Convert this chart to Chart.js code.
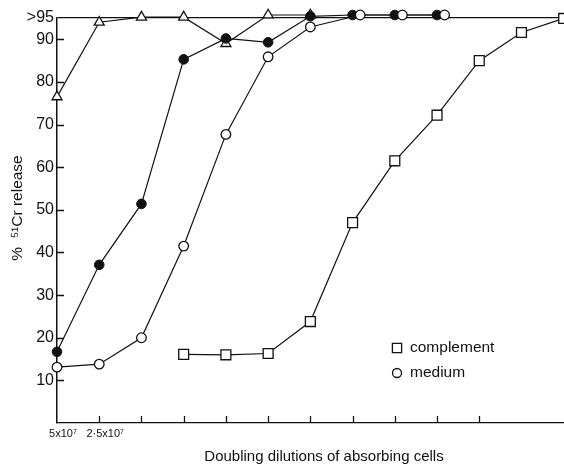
<!DOCTYPE html>
<html>
<head>
<meta charset="utf-8">
<script src="https://cdn.jsdelivr.net/npm/chart.js@4/dist/chart.umd.min.js"></script>
<style>
  html, body { margin: 0; padding: 0; background: #fff; overflow: hidden; }
</style>
</head>
<body>
<canvas id="grafico" width="572" height="464"></canvas>
<script>
// dilution steps (category index along the x axis)
const passos = [0, 1, 2, 3, 4, 5, 6, 7, 8, 9, 10, 11, 12];
const rotulosX = ["5x10⁷", "2·5x10⁷"];
const marcasX = [1, 2, 3, 4, 5, 6, 7, 8, 9, 10];
const ticksY = [10, 20, 30, 40, 50, 60, 70, 80, 90, 95];

// % 51Cr release
const complemento = [null, null, null, 16.1, 16.0, 16.3, 23.8, 47.0, 61.5, 72.2, 85.0, 91.6, 94.9];
const meio = [13.1, 13.8, 20.0, 41.5, 67.7, 85.9, 92.9, 95.7, 95.7, 95.7];
const meioX = [0, 1, 2, 3, 4, 5, 6, 7.18, 8.18, 9.18];
const cheios = [16.7, 37.1, 51.4, 85.3, 90.2, 89.3, 95.4, 95.7, 95.7, 95.7];
const triangulos = [76.5, 94.0, 95.2, 95.2, 89.0, 95.7, 95.7];

const tituloX = "Doubling dilutions of absorbing cells";
const tituloY = "%  ⁵¹Cr release";

const fonte = '"Liberation Sans", Arial, sans-serif';
const preto = "#111";

function pontos(xs, ys) {
  let lista = [];
  for (let i = 0; i < ys.length; i++) {
    if (ys[i] !== null) {
      lista.push({ x: xs[i], y: ys[i] });
    }
  }
  return lista;
}

const extras = {
  id: "extras",
  afterDraw(chart) {
    const ctx = chart.ctx;
    const area = chart.chartArea;
    const x = chart.scales.x;
    const y = chart.scales.y;

    ctx.save();
    ctx.strokeStyle = preto;
    ctx.lineWidth = 1.3;

    // tick marks point inwards
    ctx.beginPath();
    for (let i = 0; i < ticksY.length; i++) {
      if (ticksY[i] === 95) continue;
      let py = Math.round(y.getPixelForValue(ticksY[i])) + 0.5;
      ctx.moveTo(area.left, py);
      ctx.lineTo(area.left + 7, py);
    }
    for (let i = 0; i < marcasX.length; i++) {
      let px = Math.round(x.getPixelForValue(marcasX[i])) + 0.5;
      ctx.moveTo(px, area.bottom);
      ctx.lineTo(px, area.bottom - 7);
    }
    ctx.stroke();

    // axis titles
    ctx.fillStyle = preto;
    ctx.textAlign = "center";
    ctx.textBaseline = "middle";
    ctx.font = "15px " + fonte;
    ctx.fillText(tituloX, 324, 457);

    ctx.save();
    ctx.translate(18, 208);
    ctx.rotate(-Math.PI / 2);
    ctx.font = "15.5px " + fonte;
    ctx.fillText(tituloY, 0, 0);
    ctx.restore();

    // legend
    const itens = [chart.data.datasets[3], chart.data.datasets[0]];
    for (let i = 0; i < itens.length; i++) {
      let ds = itens[i];
      let ly = 348 + i * 25;
      ctx.fillStyle = "#fff";
      ctx.strokeStyle = preto;
      ctx.lineWidth = 1.3;
      Chart.helpers.drawPoint(ctx, {
        pointStyle: ds.pointStyle,
        rotation: 0,
        radius: ds.pointStyle === "rect" ? 6.5 : 4.5,
        borderWidth: 1.3,
      }, 397, ly);
      ctx.fillStyle = preto;
      ctx.textAlign = "left";
      ctx.font = "15.5px " + fonte;
      ctx.fillText(ds.label, 410, ly);
    }
    ctx.restore();
  },
};

new Chart(document.getElementById("grafico"), {
  type: "line",

  data: {
    datasets: [
      {
        label: "medium",
        data: pontos(meioX, meio),
        borderColor: preto,
        borderWidth: 1.2,
        pointStyle: "circle",
        pointRadius: 4.8,
        pointBackgroundColor: "#fff",
        pointBorderColor: preto,
        pointBorderWidth: 1.3,
        clip: false,
      },
      {
        label: "absorbed",
        data: pontos(passos, cheios),
        borderColor: preto,
        borderWidth: 1.2,
        pointStyle: "circle",
        pointRadius: 4.8,
        pointBackgroundColor: preto,
        pointBorderColor: preto,
        pointBorderWidth: 1,
        clip: false,
      },
      {
        label: "triangle",
        data: pontos(passos, triangulos),
        borderColor: preto,
        borderWidth: 1.2,
        pointStyle: "triangle",
        pointRadius: 5.8,
        pointBackgroundColor: "#fff",
        pointBorderColor: preto,
        pointBorderWidth: 1.3,
        clip: false,
      },
      {
        label: "complement",
        data: pontos(passos, complemento),
        borderColor: preto,
        borderWidth: 1.2,
        pointStyle: "rect",
        pointRadius: 7,
        pointBackgroundColor: "#fff",
        pointBorderColor: preto,
        pointBorderWidth: 1.3,
        clip: false,
      },
    ],
  },

  plugins: [extras],

  options: {
    responsive: false,
    animation: false,

    layout: {
      padding: { top: 18, right: 6, left: 0, bottom: 0 },
    },

    plugins: {
      legend: { display: false },
      tooltip: { enabled: false },
    },

    scales: {
      x: {
        type: "linear",
        min: 0,
        max: 12,
        afterBuildTicks: (s) => {
          s.ticks = passos.map((v) => ({ value: v }));
        },
        afterFit: (s) => {
          s.height = 41;
        },
        ticks: {
          autoSkip: false,
          maxRotation: 0,
          padding: 4,
          labelOffset: 6,
          color: preto,
          font: { family: fonte, size: 11 },
          callback: (v) => (rotulosX[v] !== undefined ? rotulosX[v] : ""),
        },
        grid: { drawTicks: false, color: "rgba(0,0,0,0)" },
        border: { color: preto, width: 1.3 },
      },

      y: {
        type: "linear",
        min: 0,
        max: 95,
        afterBuildTicks: (s) => {
          s.ticks = ticksY.map((v) => ({ value: v }));
        },
        afterFit: (s) => {
          s.width = 57;
        },
        ticks: {
          padding: 3,
          color: preto,
          font: { family: fonte, size: 16 },
          callback: (v) => (v === 95 ? ">95" : v),
        },
        grid: {
          drawTicks: false,
          lineWidth: 1.2,
          color: (c) => (c.tick && c.tick.value === 95 ? preto : "rgba(0,0,0,0)"),
        },
        border: { color: preto, width: 1.5 },
      },
    },
  },
});
</script>
</body>
</html>
